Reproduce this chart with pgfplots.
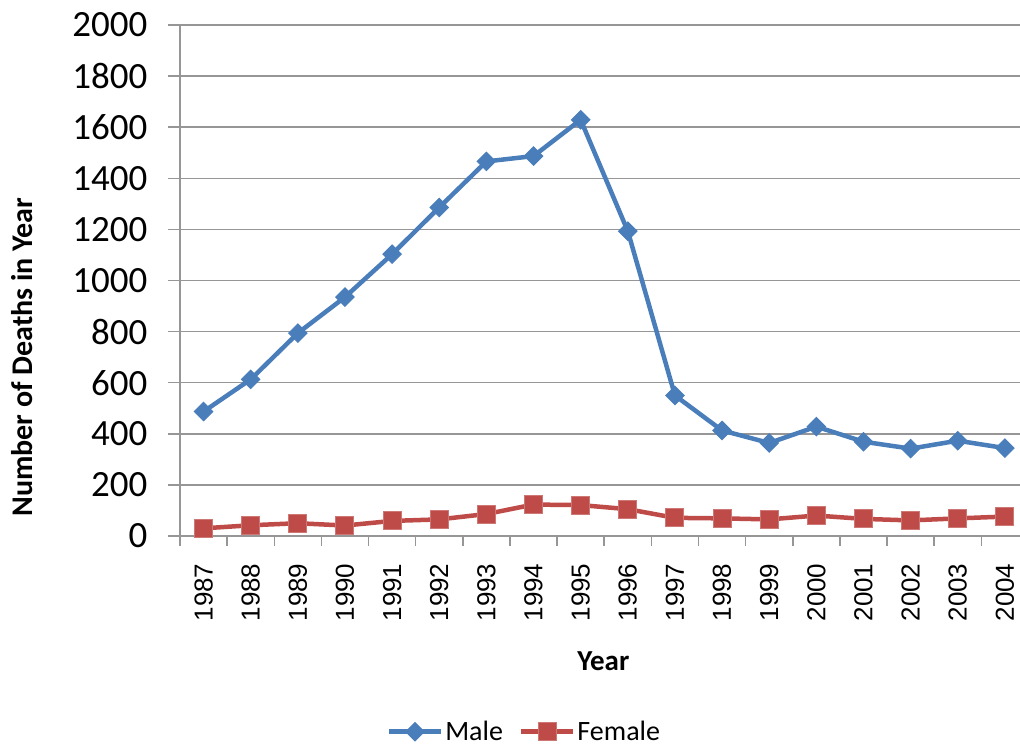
\documentclass[border=0pt]{standalone}
\usepackage{pgfplots}
\pgfplotsset{compat=1.18}
\usepackage{fontspec}
\setmainfont{Carlito}
\newfontfamily\arialfont{Liberation Sans}
\definecolor{malec}{RGB}{74,126,187}
\definecolor{femalec}{RGB}{190,75,72}
\definecolor{gridc}{RGB}{150,150,150}
\pgfplotstableread{
year male female
1987 487 30
1988 613 42
1989 794 50
1990 935 41
1991 1103 59
1992 1286 65
1993 1466 86
1994 1487 123
1995 1629 121
1996 1193 105
1997 550 71
1998 413 69
1999 364 65
2000 428 80
2001 369 67
2002 342 61
2003 373 69
2004 344 76
}\datatable
\begin{document}
\begin{tikzpicture}
\begin{axis}[
  at={(0pt,0pt)}, anchor=south west,
  scale only axis,
  width=840pt, height=511pt,
  xmin=1986.5, xmax=2004.32,
  ymin=0, ymax=2000,
  axis x line*=bottom, axis y line*=left,
  axis line style={draw=gridc, line width=1.5pt, -},
  xtick={1987,...,2004},
  major x tick style={draw=none},
  minor xtick={1986.5,1987.5,...,2003.5},
  minor x tick style={draw=gridc, line width=1.5pt},
  minor tick length=10pt,
  ytick={0,200,...,2000},
  major y tick style={draw=gridc, line width=1.5pt},
  major tick length=12pt,
  tick align=outside,
  ymajorgrids,
  major grid style={draw=gridc, line width=1.5pt},
  /pgf/number format/assume math mode=true,
  /pgf/number format/1000 sep={},
  xticklabel style={font=\arialfont\fontsize{26}{26}\selectfont, rotate=90, anchor=east, xshift=-12pt},
  yticklabel style={font=\fontsize{37}{37}\selectfont, anchor=east, xshift=-17pt},
  xlabel={\textbf{Year}},
  ylabel={\textbf{Number of Deaths in Year}},
  xlabel style={font=\fontsize{29}{29}\selectfont, at={(axis description cs:0.504,-0.245)}, anchor=center},
  ylabel style={font=\fontsize{30}{30}\selectfont, at={(axis description cs:-0.188,0.35)}, anchor=center, rotate=0},
  legend columns=2,
  legend style={draw=none, font=\fontsize{28}{28}\selectfont, at={(axis description cs:0.41,-0.383)}, anchor=center, /tikz/every even column/.append style={column sep=14pt}},
  legend image code/.code={\draw[mark repeat=2,mark phase=2] plot coordinates {(0pt,0pt) (26pt,0pt) (52pt,0pt)};},
  clip=false,
]
\addplot[color=malec, line width=4.5pt, mark=square*, mark size=6.5pt, mark options={rotate=45, line width=1pt, fill=malec, draw=malec}] table[x=year, y=male] {\datatable};
\addlegendentry{Male}
\addplot[color=femalec, line width=4.5pt, mark=square*, mark size=9pt, mark options={line width=1pt, fill=femalec, draw=femalec!75!white}] table[x=year, y=female] {\datatable};
\addlegendentry{Female}
\end{axis}
\pgfresetboundingbox
\path (-180pt,-210pt) rectangle (840pt,536pt);
\end{tikzpicture}
\end{document}
